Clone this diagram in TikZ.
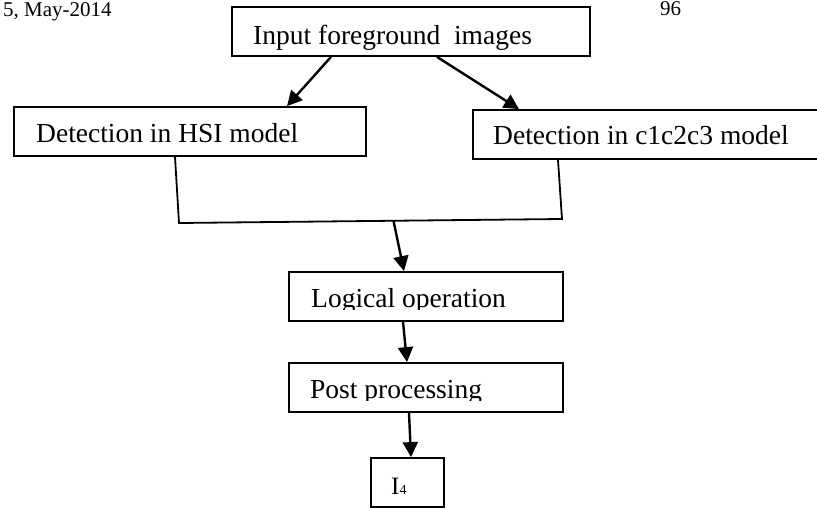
\documentclass[tikz,border=0pt]{standalone}
\usepackage{fontspec}
\setmainfont{Liberation Serif}
\usetikzlibrary{arrows.meta,calc}
\tikzset{
  box/.style={draw, line width=1.8pt, rectangle, inner sep=0pt, minimum height=49pt},
  boxtext/.style={anchor=base west, inner sep=0pt, font=\fontsize{27.5}{33}\selectfont},
  hdr/.style={anchor=base west, inner sep=0pt, font=\fontsize{21}{25}\selectfont},
  flow/.style={line width=2.4pt, -{Triangle[length=15pt,width=15pt]}},
  joint/.style={line width=1.8pt}
}
\begin{document}
\begin{tikzpicture}[x=1pt,y=-1pt]
  \useasboundingbox (0,0) rectangle (817,508);
  \clip (0,0) rectangle (817,508);

  % running header
  \node[hdr] (page) at (3,17) {5, May-2014};
  \node[hdr] (pno) at (660,16) {96};

  % boxes
  \node[box, minimum width=358pt] (top)  at (411,31.5)  {};
  \node[box, minimum width=352pt] (hsi)  at (190,131.5) {};
  \node[box, minimum width=357pt] (cmod) at (651.5,134.5) {};
  \node[box, minimum width=274pt] (logic) at (426,296.5) {};
  \node[box, minimum width=274pt] (post) at (426,387.5) {};
  \node[box, minimum width=73pt]  (out)  at (407.5,482.5) {};

  % box texts (descenders cut off at the text frame)
  \begin{scope}
    \clip (232,7) rectangle (590,51);
    \node[boxtext] (tin) at (253,45) {Input foreground\ \ images};
  \end{scope}
  \node[boxtext] (thsi) at (36,143) {Detection in HSI model};
  \node[boxtext] (tcmod) at (493,145) {Detection in c1c2c3 model};
  \begin{scope}
    \clip (289,272) rectangle (563,309.5);
    \node[boxtext] (tlogic) at (311,307) {Logical operation};
  \end{scope}
  \begin{scope}
    \clip (289,363) rectangle (563,400.5);
    \node[boxtext] (tpost) at (310,398) {Post processing};
  \end{scope}
  \node[anchor=base west, inner sep=0pt] (tout) at (391,494)
    {\fontsize{25}{30}\selectfont I\fontsize{14}{17}\selectfont 4};

  % connectors
  \draw[flow] ([xshift=-80pt]top.south) -- ([xshift=97pt]hsi.north);
  \draw[flow] ([xshift=26pt]top.south) -- ([xshift=-132.5pt]cmod.north);

  \coordinate (jl) at (179,223);
  \coordinate (jr) at (562,219);
  \draw[joint] ([xshift=-15pt]hsi.south) -- (jl) -- (jr) -- ([xshift=-93.5pt]cmod.south);

  \coordinate (jm) at ($(jl)!0.56!(jr)$);
  \draw[flow] (jm) -- ([xshift=-22pt]logic.north);
  \draw[flow] ([xshift=-23pt]logic.south) -- ([xshift=-19pt]post.north);
  \draw[flow] ([xshift=-17pt]post.south) -- ([xshift=3.5pt]out.north);
\end{tikzpicture}
\end{document}
